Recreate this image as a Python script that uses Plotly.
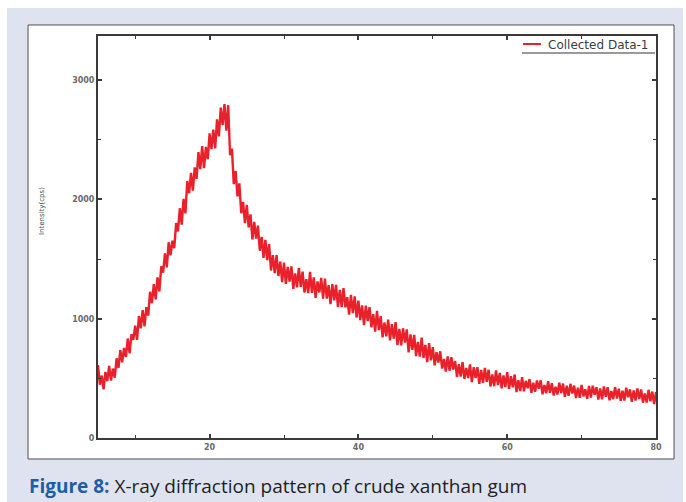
import plotly.graph_objects as go

# XRD scan of crude xanthan gum, 2-theta from 5 to 80 deg in 0.25 deg steps
scan_start = 5.0
scan_step = 0.25

counts_05_10 = [612, 447, 523, 408, 554, 476, 605, 481, 582, 505,
                668, 587, 736, 634, 755, 678, 834, 709, 871, 823, 942]
counts_10_16 = [822, 1023, 920, 1072, 936, 1097, 1026, 1226, 1130, 1290,
                1162, 1346, 1228, 1439, 1386, 1548, 1430, 1641, 1532, 1654,
                1592, 1802, 1732, 1926]
counts_16_22 = [1789, 2004, 1883, 2154, 2052, 2223, 2074, 2268, 2172, 2397,
                2254, 2446, 2263, 2440, 2337, 2554, 2422, 2585, 2428, 2672,
                2528, 2770, 2622, 2800]
counts_22_30 = [2576, 2790, 2370, 2426, 2128, 2238, 2026, 2134, 1884, 1978,
                1802, 1954, 1766, 1875, 1664, 1812, 1672, 1781, 1570, 1686,
                1509, 1660, 1491, 1626, 1404, 1533, 1382, 1533, 1358, 1479,
                1306, 1470]
counts_30_40 = [1292, 1434, 1312, 1438, 1249, 1380, 1263, 1426, 1266, 1395,
                1220, 1332, 1214, 1392, 1217, 1347, 1174, 1313, 1220, 1343,
                1168, 1336, 1168, 1281, 1122, 1290, 1154, 1283, 1098, 1242,
                1097, 1256, 1094, 1180, 1034, 1200, 1046, 1188, 1010, 1152]
counts_40_50 = [988, 1111, 946, 1110, 980, 1098, 928, 1038, 892, 1066,
                904, 1022, 843, 968, 852, 993, 818, 954, 834, 971,
                778, 914, 777, 920, 799, 910, 718, 869, 739, 865,
                687, 805, 683, 841, 671, 781, 636, 796, 651, 762]
counts_50_62 = [609, 720, 632, 727, 582, 662, 557, 684, 564, 677,
                574, 646, 512, 618, 515, 637, 496, 587, 502, 617,
                469, 594, 502, 594, 454, 570, 463, 587, 471, 572,
                432, 532, 434, 567, 444, 546, 416, 525, 426, 552,
                411, 518, 425, 532, 384, 484, 393, 509]
counts_62_80 = [391, 479, 417, 494, 379, 464, 387, 482, 413, 483,
                367, 444, 376, 476, 379, 460, 356, 429, 364, 464,
                376, 456, 345, 438, 353, 454, 373, 439, 335, 421,
                337, 445, 349, 408, 328, 436, 338, 439, 363, 425,
                322, 416, 325, 433, 345, 426, 316, 394, 326, 427,
                331, 413, 311, 397, 314, 422, 342, 408, 304, 398,
                314, 415, 326, 407, 296, 373, 297, 404, 308, 389,
                285, 385]

intensity = (counts_05_10 + counts_10_16 + counts_16_22 + counts_22_30
             + counts_30_40 + counts_40_50 + counts_50_62 + counts_62_80)
two_theta = [scan_start + scan_step * i for i in range(len(intensity))]

series_name = "Collected Data-1"
y_title = "Intensity(cps)"
caption_bold = "Figure 8:"
caption_rest = " X-ray diffraction pattern of crude xanthan gum"

RED = "#e8212a"
AXIS = "#3a3a3a"
TICKTXT = "#6a6a6a"

fig = go.Figure()
fig.add_trace(go.Scatter(
    x=two_theta, y=intensity, mode="lines", name=series_name,
    line=dict(color=RED, width=2.4), showlegend=False,
))

axis_common = dict(
    showline=True, linecolor=AXIS, linewidth=2, mirror="allticks",
    ticks="inside", ticklen=4, tickwidth=1.5, tickcolor=AXIS,
    showgrid=False, zeroline=False,
    tickfont=dict(family="DejaVu Sans", size=8, color=TICKTXT, weight="bold"),
)

fig.update_xaxes(range=[5, 80], tickvals=[20, 40, 60, 80],
                 minor=dict(dtick=10, tick0=0, ticks="inside", ticklen=3,
                            tickcolor=AXIS, tickwidth=1.2),
                 **axis_common)
fig.update_yaxes(range=[0, 3370], tickvals=[0, 1000, 2000, 3000],
                 minor=dict(dtick=500, tick0=0, ticks="inside", ticklen=3,
                            tickcolor=AXIS, tickwidth=1.2),
                 **axis_common)

# page frame: tinted band with a white figure panel on it
shapes = [
    dict(type="rect", xref="paper", yref="paper", layer="below",
         x0=-0.1631, x1=1.0484, y0=-0.17, y1=1.0697,
         fillcolor="#dfe3f0", line=dict(width=0)),
    dict(type="rect", xref="paper", yref="paper", layer="below",
         x0=-0.1254, x1=1.0323, y0=-0.0522, y1=1.0274,
         fillcolor="white", line=dict(color="#505050", width=1)),
    # legend sample line and underline
    dict(type="line", xref="paper", yref="paper",
         x0=(523 - 98) / 558, x1=(541 - 98) / 558,
         y0=(438 - 44) / 402, y1=(438 - 44) / 402,
         line=dict(color=RED, width=2)),
    dict(type="line", xref="paper", yref="paper",
         x0=(522 - 98) / 558, x1=(655 - 98) / 558,
         y0=(438 - 53) / 402, y1=(438 - 53) / 402,
         line=dict(color="#9a9a9a", width=2)),
]

annotations = [
    dict(text=series_name, xref="paper", yref="paper",
         x=(546 - 98) / 558, y=(438 - 44.5) / 402, xanchor="left", yanchor="middle",
         showarrow=False, font=dict(family="DejaVu Sans", size=12, color="#3c3c3c")),
    dict(text=y_title, xref="paper", yref="paper", textangle=-90,
         x=(42 - 98) / 558, y=(438 - 211) / 402, xanchor="center", yanchor="middle",
         showarrow=False, font=dict(family="DejaVu Sans", size=7, color="#444444")),
    dict(text=f"<b><span style='color:#1c5da6'>{caption_bold}</span></b>{caption_rest}",
         xref="paper", yref="paper",
         x=(27 - 98) / 558, y=(438 - 486) / 402, xanchor="left", yanchor="middle",
         showarrow=False, font=dict(family="Open Sans", size=19, color="#231f20")),
]

fig.update_layout(
    width=686, height=502,
    margin=dict(l=98, r=30, t=36, b=64),
    paper_bgcolor="white", plot_bgcolor="white",
    shapes=shapes, annotations=annotations,
    showlegend=False,
)

fig.write_html("out.html")
